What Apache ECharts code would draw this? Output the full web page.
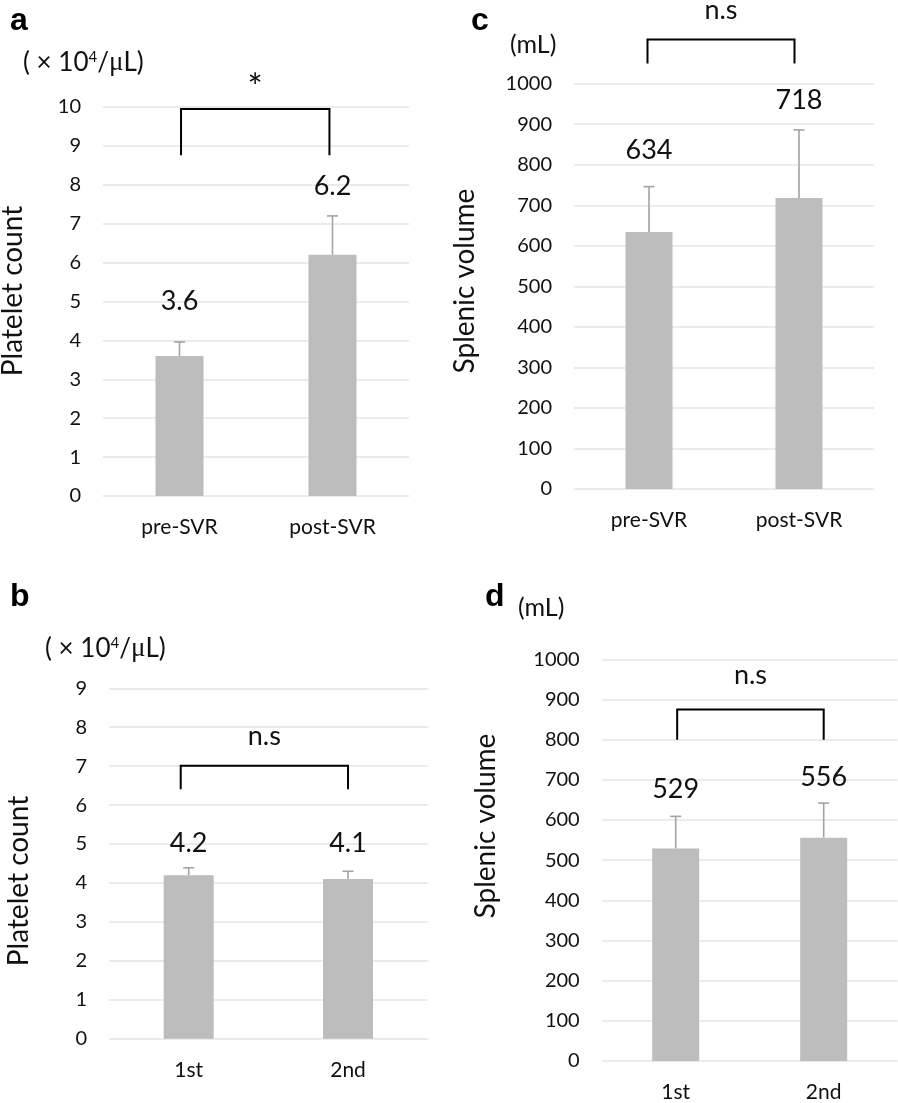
<!DOCTYPE html>
<html>
<head>
<meta charset="utf-8">
<script src="https://cdn.jsdelivr.net/npm/echarts@6/dist/echarts.min.js"></script>
<style>
  html, body { margin: 0; padding: 0; background: #fff; }
  #chart { width: 898px; height: 1103px; }
</style>
</head>
<body>
<div id="chart"></div>
<script>
// categories
const svrCats = ['pre-SVR', 'post-SVR'];
const scanCats = ['1st', '2nd'];

// panel a: platelet count before / after SVR (x10^4/uL)
const plateletSVR = [3.6, 6.2];
const plateletSVRErr = [0.36, 1.0];
// panel c: splenic volume before / after SVR (mL)
const volumeSVR = [634, 718];
const volumeSVRErr = [112, 168];
// panel b: platelet count 1st / 2nd
const plateletScan = [4.2, 4.1];
const plateletScanErr = [0.19, 0.2];
// panel d: splenic volume 1st / 2nd
const volumeScan = [529, 556];
const volumeScanErr = [80, 86];

// axis ranges
const plateletMaxA = 10;
const plateletMaxB = 9;
const volumeMax = 1000;

const FONT = 'Lato';
const BAR = '#bdbdbd';
const ERR = '#a3a3a3';
const GRIDLINE = '#e4e4e4';

// layout per panel (pixels + where the annotations sit in data units)
const panels = [
  {
    letter: 'a', cats: svrCats, vals: plateletSVR, errs: plateletSVRErr,
    max: plateletMaxA, step: 1,
    grid: { left: 103, top: 107, width: 306, height: 389 }, barWidth: 48,
    labelAt: [5.0, 7.95],
    bracket: { ends: [0.01, 0.98], top: 9.95, leg: 8.76, textAt: 10.47, text: '*', size: 36 },
    letterPos: [10, 21], unit: 'platelet', unitPos: [23, 63],
    name: 'Platelet count', namePos: [13, 291]
  },
  {
    letter: 'c', cats: svrCats, vals: volumeSVR, errs: volumeSVRErr,
    max: volumeMax, step: 100,
    grid: { left: 574, top: 83.7, width: 300, height: 405.3 }, barWidth: 47,
    labelAt: [836, 960],
    bracket: { ends: [-0.01, 0.97], top: 1109, leg: 1050, textAt: 1180, text: 'n.s', size: 27 },
    letterPos: [471, 21], unit: 'ml', unitPos: [510, 45],
    name: 'Splenic volume', namePos: [465, 281]
  },
  {
    letter: 'b', cats: scanCats, vals: plateletScan, errs: plateletScanErr,
    max: plateletMaxB, step: 1,
    grid: { left: 109, top: 688.3, width: 318.7, height: 350.4 }, barWidth: 50,
    labelAt: [5.02, 5.03],
    bracket: { ends: [-0.05, 1.0], top: 7.01, leg: 6.41, textAt: 7.76, text: 'n.s', size: 27 },
    letterPos: [10, 597], unit: 'platelet', unitPos: [45, 649],
    name: 'Platelet count', namePos: [19, 881]
  },
  {
    letter: 'd', cats: scanCats, vals: volumeScan, errs: volumeScanErr,
    max: volumeMax, step: 100,
    grid: { left: 601.7, top: 659.3, width: 296, height: 404.4 }, barWidth: 47,
    labelAt: [677, 706],
    bracket: { ends: [0.01, 1.0], top: 875, leg: 800, textAt: 961, text: 'n.s', size: 27 },
    letterPos: [485, 597], unit: 'ml', unitPos: [518, 608],
    name: 'Splenic volume', namePos: [486, 826]
  }
];

const chart = echarts.init(document.getElementById('chart'));

const grids = [], xAxes = [], yAxes = [], series = [], graphics = [];

panels.forEach(function (p, i) {
  grids.push(p.grid);
  xAxes.push({
    type: 'category', gridIndex: i, data: p.cats,
    axisLine: { show: false }, axisTick: { show: false },
    axisLabel: { color: '#111', fontFamily: FONT, fontSize: 21, margin: 21 }
  });
  yAxes.push({
    type: 'value', gridIndex: i, min: 0, max: p.max, interval: p.step,
    axisLine: { show: false }, axisTick: { show: false },
    axisLabel: { color: '#111', fontFamily: FONT, fontSize: 20, margin: 22,
      formatter: function (v) { return String(v); } },
    splitLine: { lineStyle: { color: GRIDLINE, width: 1.5 } }
  });

  series.push({
    type: 'bar', xAxisIndex: i, yAxisIndex: i,
    data: p.vals, barWidth: p.barWidth,
    itemStyle: { color: BAR }, silent: true
  });

  // upper error bar + value label
  series.push({
    type: 'custom', xAxisIndex: i, yAxisIndex: i, silent: true,
    data: p.vals.map(function (v, k) { return [k, v, p.errs[k], p.labelAt[k]]; }),
    renderItem: function (params, api) {
      const x = api.value(0), v = api.value(1), e = api.value(2);
      const base = api.coord([x, v]);
      const top = api.coord([x, v + e]);
      const lab = api.coord([x, api.value(3)]);
      return {
        type: 'group',
        children: [
          { type: 'line', shape: { x1: base[0], y1: base[1], x2: top[0], y2: top[1] },
            style: { stroke: ERR, lineWidth: 1.6 } },
          { type: 'line', shape: { x1: top[0] - 5.5, y1: top[1], x2: top[0] + 5.5, y2: top[1] },
            style: { stroke: ERR, lineWidth: 1.6 } },
          { type: 'text', x: lab[0], y: lab[1],
            style: { text: String(v), fill: '#111', font: '27px ' + FONT, align: 'center', verticalAlign: 'middle' } }
        ]
      };
    }
  });

  // significance bracket (category axis rounds fractions, so interpolate in pixels)
  series.push({
    type: 'custom', xAxisIndex: i, yAxisIndex: i, silent: true,
    data: [[0]],
    renderItem: function (params, api) {
      const b = p.bracket;
      const c0 = api.coord([0, b.top]);
      const c1 = api.coord([1, b.top]);
      const leg = api.coord([0, b.leg])[1];
      const txt = api.coord([0, b.textAt])[1];
      const xl = c0[0] + (c1[0] - c0[0]) * b.ends[0];
      const xr = c0[0] + (c1[0] - c0[0]) * b.ends[1];
      return {
        type: 'group',
        children: [
          { type: 'polyline', shape: { points: [[xl, leg], [xl, c0[1]], [xr, c0[1]], [xr, leg]] },
            style: { stroke: '#000', lineWidth: 2, fill: null } },
          { type: 'text', x: (xl + xr) / 2, y: txt,
            style: { text: b.text, fill: '#111', font: b.size + 'px ' + FONT, align: 'center', verticalAlign: 'middle' } }
        ]
      };
    }
  });

  graphics.push({
    type: 'text', x: p.letterPos[0], y: p.letterPos[1],
    style: { text: p.letter, fill: '#000', font: 'bold 32px "Liberation Sans"', verticalAlign: 'middle' }
  });

  if (p.unit === 'platelet') {
    graphics.push({
      type: 'text', x: p.unitPos[0], y: p.unitPos[1],
      style: {
        text: '{t|( × 10}{s|4}{t|/}{m|μ}{t|L)}',
        verticalAlign: 'middle',
        rich: {
          t: { fontFamily: FONT, fontSize: 26, fill: '#111' },
          s: { fontFamily: FONT, fontSize: 15, fill: '#111', verticalAlign: 'top' },
          m: { fontFamily: 'Liberation Serif', fontSize: 27, fill: '#111' }
        }
      }
    });
  } else {
    graphics.push({
      type: 'text', x: p.unitPos[0], y: p.unitPos[1],
      style: { text: '(mL)', fill: '#111', font: '25px ' + FONT, verticalAlign: 'middle' }
    });
  }

  graphics.push({
    type: 'text', x: p.namePos[0], y: p.namePos[1], rotation: Math.PI / 2,
    style: { text: p.name, fill: '#111', font: '28px ' + FONT, align: 'center', verticalAlign: 'middle' }
  });
});

chart.setOption({
  backgroundColor: '#fff',
  animation: false,
  grid: grids,
  xAxis: xAxes,
  yAxis: yAxes,
  series: series,
  graphic: graphics
});
</script>
</body>
</html>
